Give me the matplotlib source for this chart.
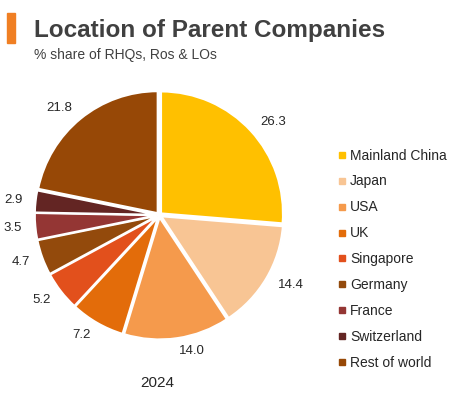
import matplotlib
matplotlib.use("Agg")
import matplotlib.pyplot as plt
from matplotlib.patches import Rectangle
from matplotlib.lines import Line2D

plt.rcParams['font.family'] = ['Liberation Sans', 'DejaVu Sans']

categories = ["Mainland China", "Japan", "USA", "UK", "Singapore", "Germany",
              "France", "Switzerland", "Rest of world"]
values = [26.3, 14.4, 14.0, 7.2, 5.2, 4.7, 3.5, 2.9, 21.8]
value_labels = ["26.3", "14.4", "14.0", "7.2", "5.2", "4.7", "3.5", "2.9", "21.8"]
colors = ["#FFC000", "#F8C594", "#F59A4C", "#E36C0A", "#E2501C", "#934A0C",
          "#943634", "#632523", "#974806"]
year_label = "2024"
title = "Location of Parent Companies"
subtitle = "% share of RHQs, Ros & LOs"

fig = plt.figure(figsize=(4.53, 3.99), dpi=100)
fig.patch.set_facecolor("white")

# title decoration
fig.patches.append(Rectangle((7 / 453, 1 - 43 / 399), 8 / 453, 30 / 399,
                             transform=fig.transFigure, color="#F07F23"))
fig.text(34 / 453, 1 - 30 / 399, title, fontsize=17.5, fontweight="bold",
         color="#404040", va="center", ha="left")
fig.text(34 / 453, 1 - 55 / 399, subtitle, fontsize=10, color="#404040",
         va="center", ha="left")

ax = fig.add_axes([-0.004, 0.0575, 0.711, 0.807])
wedges, texts = ax.pie(values, colors=colors, startangle=90, counterclock=False,
                       labels=value_labels, labeldistance=1.11,
                       explode=[0.02] * len(values),
                       wedgeprops=dict(edgecolor="white", linewidth=1.5),
                       textprops=dict(fontsize=9.5, color="#262626"))
ax.set_xlim(-1.32, 1.32)
ax.set_ylim(-1.32, 1.32)
ax.set_aspect("equal")

fig.text(157 / 453, 1 - 383 / 399, year_label, fontsize=11, color="#262626",
         ha="center", va="center")

handles = [Line2D([0], [0], marker="s", linestyle="none", markersize=5,
                  markerfacecolor=c, markeredgecolor=c) for c in colors]
fig.legend(handles, categories, loc="upper left",
           bbox_to_anchor=(332 / 453, 1 - 143 / 399), frameon=False,
           fontsize=10, handlelength=0.6, handletextpad=0.3,
           labelspacing=0.86, borderaxespad=0, labelcolor="#262626")

fig.savefig("out.png", dpi=100)
